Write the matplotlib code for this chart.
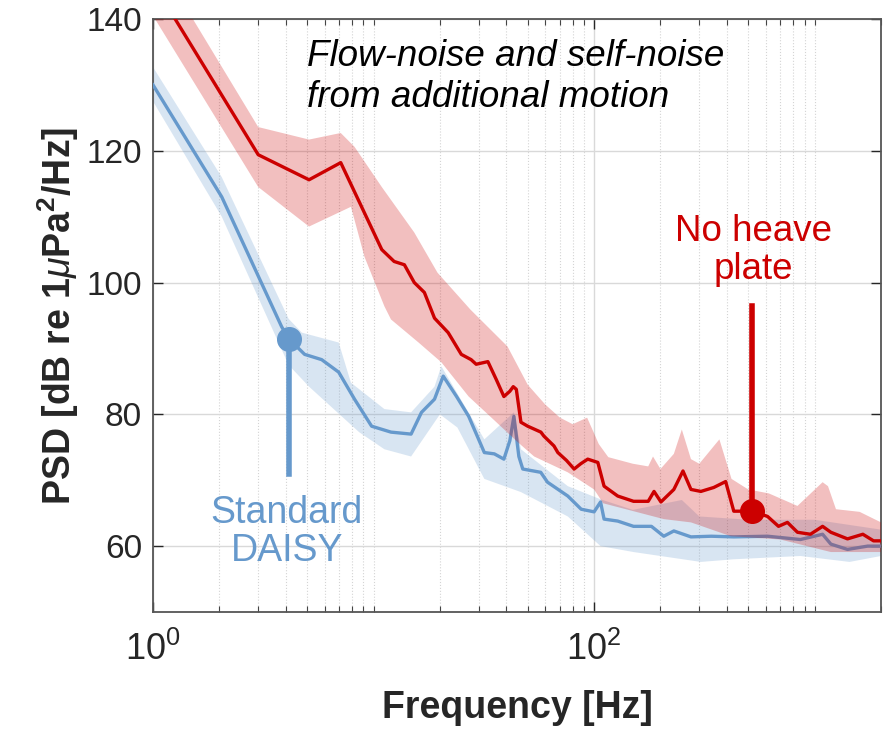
import matplotlib
matplotlib.use('Agg')
import matplotlib.pyplot as plt
from matplotlib.ticker import FixedLocator, NullFormatter

plt.rcParams['font.family'] = ['Liberation Sans', 'DejaVu Sans']
plt.rcParams['mathtext.fontset'] = 'custom'
plt.rcParams['mathtext.rm'] = 'Liberation Sans'
plt.rcParams['mathtext.it'] = 'Liberation Sans:italic'
plt.rcParams['mathtext.bf'] = 'Liberation Sans:bold'

# --- data (frequency in Hz, PSD in dB) ---
red_f = [1.0, 1.26, 3.0, 5.1, 7.1, 10.9, 12.4, 13.8, 15.3, 17.0, 18.9, 21.8, 25, 27.7,
         29.2, 33, 36, 39, 41.5, 43, 44.4, 46.6, 50, 57.4, 59.2, 65.8, 68.5, 75, 81.2,
         87, 93.6, 104, 111, 128, 151, 176, 187, 201, 230, 253, 275, 305, 349, 395,
         430, 522, 612, 686, 753, 836, 957, 1087, 1185, 1410, 1655, 1850, 2000]
red_db = [145.5, 140, 119.4, 115.6, 118.2, 105, 103.2, 102.7, 100, 98.5, 94.6, 92.4, 89.1,
          88.3, 87.6, 88, 85.3, 82.7, 83.5, 84.2, 83.8, 78.8, 78.2, 77.3, 76.7, 75.2, 74.2,
          73, 71.7, 72.5, 73.2, 72.7, 69.1, 67.6, 66.8, 66.8, 68.3, 66.7, 68.6, 71.4, 68.6,
          68.3, 68.9, 69.8, 65.3, 65.3, 64.5, 63, 63.6, 62.1, 61.8, 63, 62.1, 61.1, 61.8,
          60.8, 60.8]

red_up_f = [1, 3, 5.1, 7.1, 8.2, 10.9, 15.3, 19.5, 27.5, 40.5, 50, 60, 70, 80, 93, 105,
            116, 150, 176, 185, 200, 230, 250, 275, 300, 370, 420, 500, 620, 836, 1087,
            1150, 1250, 1600, 2000]
red_up_db = [150, 123.6, 121.7, 122.7, 120.6, 114.5, 107.6, 101.5, 95.9, 90.3, 84.5, 81.5,
             79.5, 78.5, 79.5, 75.5, 73.5, 72.5, 72.1, 73.6, 71.7, 74, 77.7, 73.2, 72.5,
             76.2, 70.2, 68.6, 68, 66.1, 69.7, 69.1, 65.6, 65.2, 63.6]
red_lo_f = [1, 3, 5.1, 7.9, 9.1, 11.2, 12, 16, 20.3, 27, 33, 45, 53.5, 76, 100, 110, 207,
            275, 417, 700, 1185, 2000]
red_lo_db = [140.5, 114.5, 108.5, 111.5, 103.9, 96.4, 94.4, 90.9, 87.9, 82.7, 80, 75.8,
             73.6, 71.2, 68.6, 66.5, 64.1, 63.6, 61.5, 61, 59.1, 59.1]

blue_f = [1.0, 2.05, 3.83, 4.12, 4.87, 5.82, 6.95, 8.2, 9.8, 12, 14.8, 16.5, 18.9, 20.7,
          23.8, 27, 31.8, 35.3, 39, 41.5, 43.3, 45.6, 47.5, 57.3, 61.5, 76, 87.4, 100, 107,
          111, 128, 151, 182, 207, 230, 275, 340, 430, 612, 862, 1087, 1185, 1410, 1740, 2000]
blue_db = [130, 113, 93.3, 91.5, 89.1, 88.3, 86.4, 82.3, 78.2, 77.3, 77, 80.3, 82.3, 85.8,
           82.7, 79.7, 74.2, 74, 73.2, 76, 79.7, 73.6, 71.7, 71.2, 69.7, 67.6, 65.6, 65.2,
           66.7, 64.1, 63.8, 63, 63, 61.5, 62.3, 61.4, 61.5, 61.4, 61.5, 61, 61.8, 60.3,
           59.5, 60, 60]

blue_up_f = [1, 2.05, 4.12, 4.73, 6.95, 7.9, 11.2, 14.8, 18.9, 20.3, 31.8, 43.3, 46.6, 76,
             107, 150, 250, 300, 500, 1000, 2000]
blue_up_db = [132.7, 116, 94.5, 92.4, 90.9, 84.8, 80.8, 80.3, 84.2, 87.3, 76.2, 80.3, 74.7,
              69.1, 67.1, 65.5, 67, 64.5, 64, 64, 62.5]
blue_lo_f = [1, 2.05, 4.12, 5.1, 8.6, 11.2, 14.8, 20, 24, 31.8, 46.6, 76, 107, 151, 305,
             430, 862, 1440, 2000]
blue_lo_db = [127.5, 110, 87.5, 84.2, 77.3, 74.7, 73.6, 80, 78, 70.2, 68.2, 64.5, 60, 59.1,
              57.6, 58, 58.5, 57.6, 58.5]

# annotation anchors: freq, dot level, stem end
blue_mark = (4.12, 91.5, 71.0)
red_mark = (522, 65.3, 96.4)

RED = '#cc0000'
BLUE = '#6699cc'

fig = plt.figure(figsize=(8.9, 7.32), dpi=100)
ax = fig.add_axes([153 / 890, 120 / 732, 728 / 890, 593 / 732])

# blue first, red band on top of it (as in the original)
ax.fill(blue_up_f + blue_lo_f[::-1], blue_up_db + blue_lo_db[::-1],
        color=BLUE, alpha=0.25, lw=0, zorder=2)
ax.plot(blue_f, blue_db, color=BLUE, lw=2.4, zorder=3)
ax.fill(red_up_f + red_lo_f[::-1], red_up_db + red_lo_db[::-1],
        color=RED, alpha=0.25, lw=0, zorder=4)
ax.plot(red_f, red_db, color=RED, lw=2.4, zorder=5)

# marker dots with stems
ax.plot([blue_mark[0], blue_mark[0]], [blue_mark[1], blue_mark[2]], color=BLUE, lw=4, zorder=6)
ax.plot(blue_mark[0], blue_mark[1], 'o', color=BLUE, ms=17, zorder=7)
ax.plot([red_mark[0], red_mark[0]], [red_mark[1], red_mark[2]], color=RED, lw=4, zorder=6)
ax.plot(red_mark[0], red_mark[1], 'o', color=RED, ms=17, zorder=7)

ax.set_xscale('log')
ax.set_xlim(1, 2000)
ax.set_ylim(50, 140)

ax.xaxis.set_major_locator(FixedLocator([1, 100]))
ax.set_xticklabels([r'$\mathregular{10^{0}}$', r'$\mathregular{10^{2}}$'])
minors = [m * d for d in (1, 10, 100, 1000) for m in range(2, 10)] + [10, 1000]
ax.xaxis.set_minor_locator(FixedLocator([v for v in minors if v <= 2000]))
ax.xaxis.set_minor_formatter(NullFormatter())
ax.set_yticks([60, 80, 100, 120, 140])

ax.grid(which='major', color='#d9d9d9', lw=1.0, zorder=0)
ax.grid(which='minor', axis='x', color='#d4d4d4', lw=0.8, ls=':', zorder=0)
ax.set_axisbelow(True)

ax.tick_params(which='both', direction='in', top=True, right=True, color='#444444')
ax.tick_params(which='major', length=7, width=1)
ax.tick_params(which='minor', length=4, width=0.8)
ax.tick_params(axis='x', labelsize=26, pad=14, colors='#262626')
ax.tick_params(axis='y', labelsize=24, pad=8, colors='#262626')
for s in ax.spines.values():
    s.set_color('#555555')
    s.set_linewidth(1.3)

ax.set_xlabel('Frequency [Hz]', fontsize=27, fontweight='bold', color='#262626', labelpad=16)
ax.set_ylabel(r'PSD [dB re 1$\mu$Pa$^{\mathbf{2}}$/Hz]', fontsize=27, fontweight='bold',
              color='#262626', labelpad=4)

ax.text(0.212, 0.902, 'Flow-noise and self-noise\nfrom additional motion',
        transform=ax.transAxes, fontsize=26.5, style='italic', ha='left', va='center',
        linespacing=1.25, color='black', zorder=8)
ax.text(0.825, 0.61, 'No heave\nplate', transform=ax.transAxes, fontsize=26.5,
        color=RED, ha='center', va='center', linespacing=1.1, zorder=8)
ax.text(0.184, 0.135, 'Standard\nDAISY', transform=ax.transAxes, fontsize=27,
        color=BLUE, ha='center', va='center', linespacing=1.1, zorder=8)

fig.savefig('out.png', dpi=100)
